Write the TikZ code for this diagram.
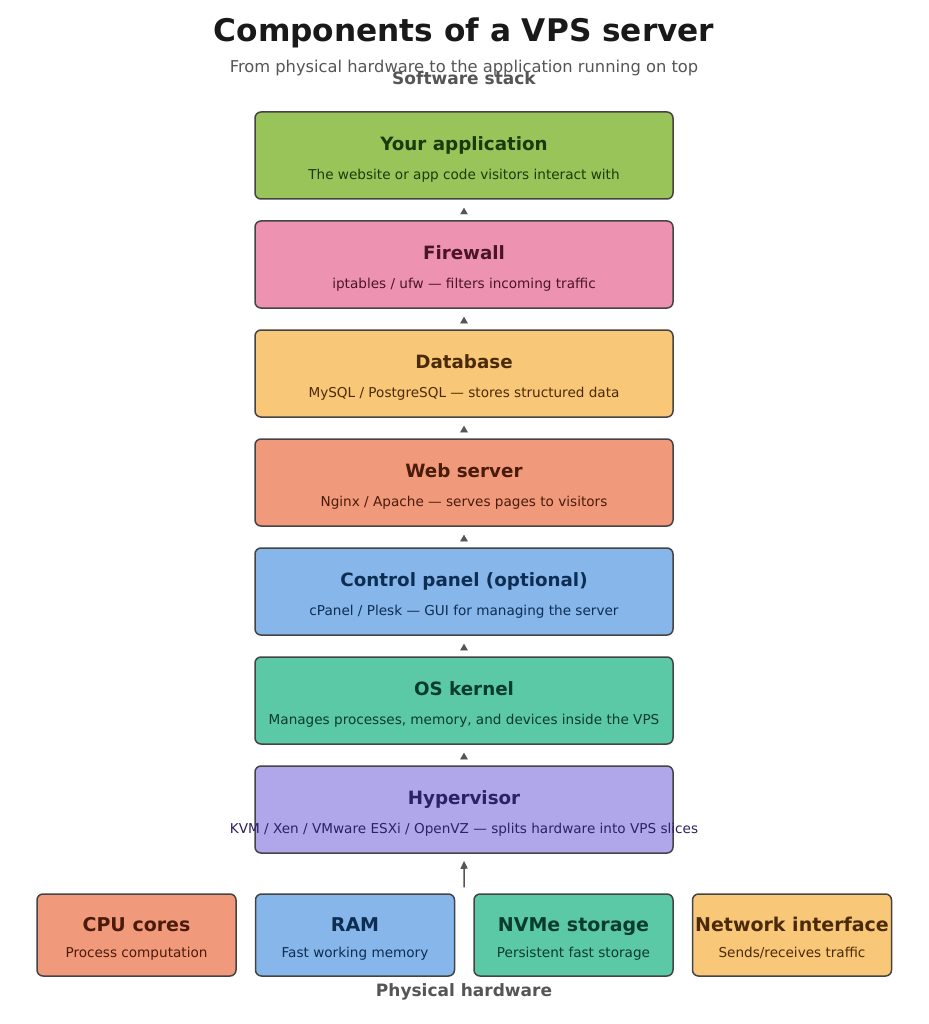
\documentclass[tikz,border=0pt]{standalone}
\usepackage{fontspec}
\setmainfont{DejaVu Sans}
\usetikzlibrary{positioning,arrows.meta,calc}
\definecolor{appfill}{HTML}{98C459}\definecolor{apptext}{HTML}{1B3A0B}
\definecolor{fwfill}{HTML}{ED92B1}\definecolor{fwtext}{HTML}{4B1528}
\definecolor{dbfill}{HTML}{F8C777}\definecolor{dbtext}{HTML}{4A2A08}
\definecolor{webfill}{HTML}{F09A7B}\definecolor{webtext}{HTML}{4A1B0B}
\definecolor{cpfill}{HTML}{86B6EA}\definecolor{cptext}{HTML}{0D2D52}
\definecolor{osfill}{HTML}{5BC9A5}\definecolor{ostext}{HTML}{0A3B2B}
\definecolor{hypfill}{HTML}{AFA7EA}\definecolor{hyptext}{HTML}{2A2263}
\definecolor{edge}{HTML}{444444}
\definecolor{muted}{HTML}{555555}
\tikzset{
  layer/.style={draw=edge,line width=1.5pt,rectangle,rounded corners=6pt,minimum width=418pt,minimum height=87pt},
  hw/.style={layer,minimum width=199pt,minimum height=82pt},
  ttl/.style={anchor=base,font=\fontsize{18.3}{22}\selectfont\bfseries},
  hwttl/.style={anchor=base,font=\fontsize{19}{23}\selectfont\bfseries},
  sub/.style={anchor=base,font=\fontsize{13.6}{16}\selectfont},
  section/.style={anchor=base,font=\fontsize{17}{20}\selectfont\bfseries,color=muted},
  arr/.style={-{Triangle[length=6.5pt,width=7.5pt]},muted,shorten >=8pt,shorten <=7.5pt},
  bigarr/.style={-{Triangle[length=8pt,width=7pt]},muted,line width=1.5pt}
}

\begin{document}
\begin{tikzpicture}[x=1pt,y=-1pt,node distance=20.5pt]
\useasboundingbox (0,0) rectangle (928,1024);

\node[font=\fontsize{31.2}{36}\selectfont\bfseries,color=black!90,anchor=base] (title) at (464,42) {Components of a VPS server};
\node[font=\fontsize{16.3}{19}\selectfont,color=muted,anchor=base] (subtitle) at (464,73) {From physical hardware to the application running on top};
\node[section] (softlbl) at (464,85) {Software stack};

% software stack
\node[layer,fill=appfill] (app) at (464,155.5) {};
\node[layer,fill=fwfill,below=of app] (fw) {};
\node[layer,fill=dbfill,below=of fw] (db) {};
\node[layer,fill=webfill,below=of db] (web) {};
\node[layer,fill=cpfill,below=of web] (cp) {};
\node[layer,fill=osfill,below=of cp] (os) {};
\node[layer,fill=hypfill,below=of os] (hyp) {};

\node[ttl,color=apptext] at ([yshift=5pt]app.center) {Your application};
\node[sub,color=apptext] at ([yshift=-24pt]app.center) {The website or app code visitors interact with};
\node[ttl,color=fwtext] at ([yshift=5pt]fw.center) {Firewall};
\node[sub,color=fwtext] at ([yshift=-24pt]fw.center) {iptables / ufw — filters incoming traffic};
\node[ttl,color=dbtext] at ([yshift=5pt]db.center) {Database};
\node[sub,color=dbtext] at ([yshift=-24pt]db.center) {MySQL / PostgreSQL — stores structured data};
\node[ttl,color=webtext] at ([yshift=5pt]web.center) {Web server};
\node[sub,color=webtext] at ([yshift=-24pt]web.center) {Nginx / Apache — serves pages to visitors};
\node[ttl,color=cptext] at ([yshift=5pt]cp.center) {Control panel (optional)};
\node[sub,color=cptext] at ([yshift=-24pt]cp.center) {cPanel / Plesk — GUI for managing the server};
\node[ttl,color=ostext] at ([yshift=5pt]os.center) {OS kernel};
\node[sub,color=ostext] at ([yshift=-24pt]os.center) {Manages processes, memory, and devices inside the VPS};
\node[ttl,color=hyptext] at ([yshift=5pt]hyp.center) {Hypervisor};
\node[sub,color=hyptext] at ([yshift=-24pt]hyp.center) {KVM / Xen / VMware ESXi / OpenVZ — splits hardware into VPS slices};

\draw[arr] (fw.north) -- (app.south);
\draw[arr] (db.north) -- (fw.south);
\draw[arr] (web.north) -- (db.south);
\draw[arr] (cp.north) -- (web.south);
\draw[arr] (os.north) -- (cp.south);
\draw[arr] (hyp.north) -- (os.south);

% physical hardware
\node[hw,fill=cpfill] (ram) at (355,935) {};
\node[hw,fill=webfill,left=18pt of ram] (cpu) {};
\node[hw,fill=osfill,right=18pt of ram] (nvme) {};
\node[hw,fill=dbfill,right=18pt of nvme] (net) {};

\node[hwttl,color=webtext] at ([yshift=4pt]cpu.center) {CPU cores};
\node[sub,color=webtext] at ([yshift=-22pt]cpu.center) {Process computation};
\node[hwttl,color=cptext] at ([yshift=4pt]ram.center) {RAM};
\node[sub,color=cptext] at ([yshift=-22pt]ram.center) {Fast working memory};
\node[hwttl,color=ostext] at ([yshift=4pt]nvme.center) {NVMe storage};
\node[sub,color=ostext] at ([yshift=-22pt]nvme.center) {Persistent fast storage};
\node[hwttl,color=dbtext] at ([yshift=4pt]net.center) {Network interface};
\node[sub,color=dbtext] at ([yshift=-22pt]net.center) {Sends/receives traffic};

\node[section] (hwlbl) at (464,996) {Physical hardware};

\coordinate (hwtop) at ($(ram.north east)!0.5!(nvme.north west)$);
\draw[bigarr,shorten <=6pt,shorten >=7pt] (hwtop) -- (hyp.south);

\end{tikzpicture}
\end{document}
